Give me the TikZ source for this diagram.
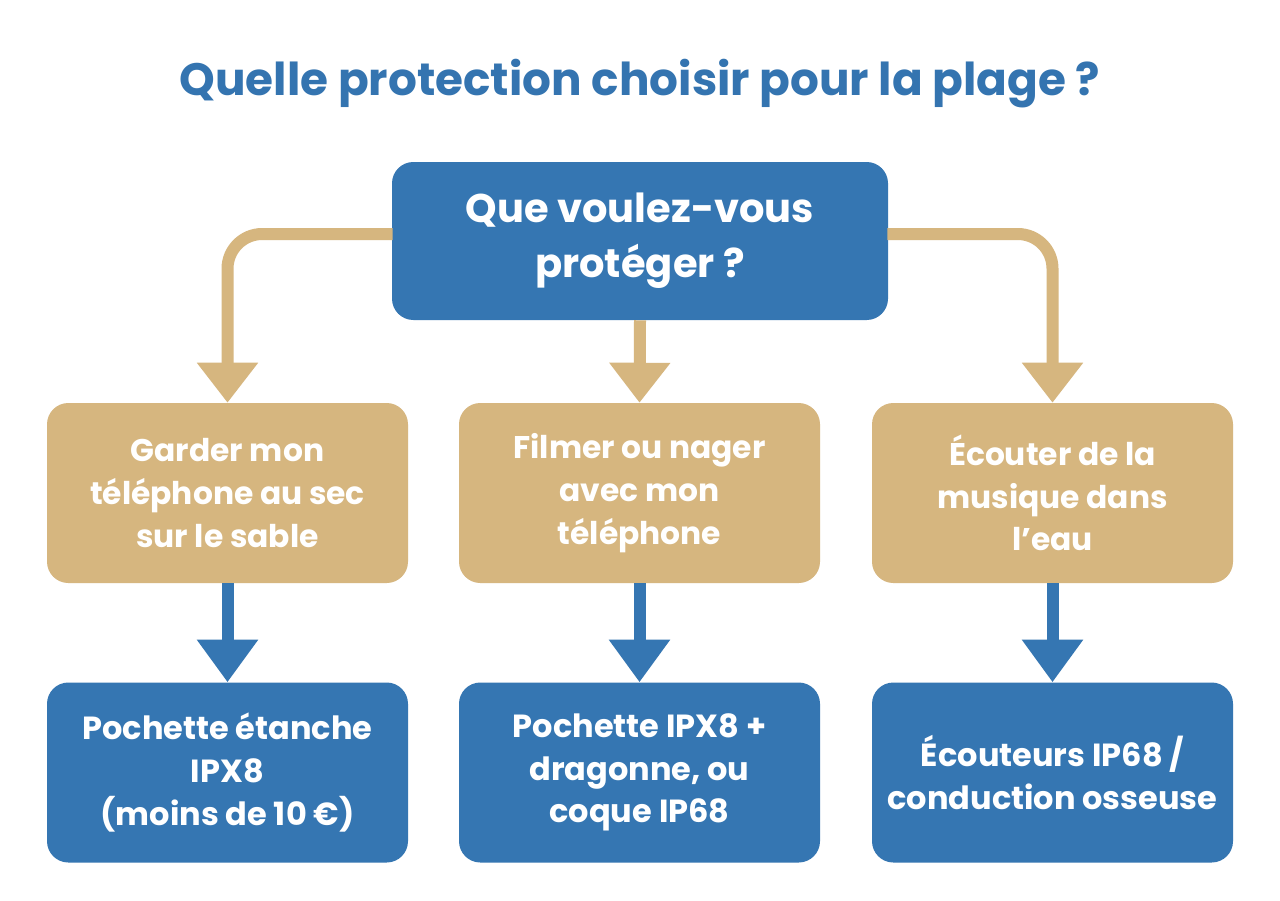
\documentclass[tikz,border=0pt]{standalone}
\usepackage{fontspec}
\setmainfont{Poppins}
\usetikzlibrary{arrows.meta,calc}
\definecolor{myblue}{RGB}{53,118,178}
\definecolor{mytan}{RGB}{214,182,127}
\definecolor{titleblue}{RGB}{52,116,176}
\tikzset{
  bluebox/.style={fill=myblue,rounded corners=16pt,text=white,align=center,font=\bfseries\fontsize{24}{32}\selectfont,minimum width=270.75pt,minimum height=135pt,inner sep=0pt},
  tanbox/.style={fill=mytan,rounded corners=16pt,text=white,align=center,font=\bfseries\fontsize{23.5}{32}\selectfont,minimum width=270.75pt,minimum height=135pt,inner sep=0pt},
  tanarrow/.style={draw=mytan,line width=9pt,rounded corners=26pt,-{Triangle[width=44pt,length=30pt]}},
  bluearrow/.style={draw=myblue,line width=9pt,-{Triangle[width=44pt,length=32pt]}},
}
\begin{document}
\begin{tikzpicture}[x=0.75pt,y=-0.75pt]
\useasboundingbox (0,0) rectangle (1280,900);
\fill[white] (0,0) rectangle (1280,900);
\node[text=titleblue,font=\bfseries\fontsize{34}{40}\selectfont] (title) at (640,84) {Quelle protection choisir pour la plage ?};
\node[bluebox,minimum width=372pt,minimum height=118.5pt,font=\bfseries\fontsize{30}{41}\selectfont] (top) at (640,241) {Que voulez-vous\\protéger ?};
\node[tanbox] (m1) at (227.5,493) {Garder mon\\téléphone au sec\\sur le sable};
\node[tanbox] (m2) at (639.5,493) {Filmer ou nager\\avec mon\\téléphone};
\node[tanbox] (m3) at (1052.5,493) {Écouter de la\\musique dans\\l’eau};
\node[bluebox] (b1) at (227.5,772.5) {Pochette étanche\\IPX8\\(moins de 10 €)};
\node[bluebox] (b2) at (639.5,772.5) {Pochette IPX8 +\\dragonne, ou\\coque IP68};
\node[bluebox] (b3) at (1052.5,772.5) {Écouteurs IP68 /\\conduction osseuse};
\draw[tanarrow] ($(top.west)+(1,-7)$) -| (m1.north);
\draw[tanarrow] ($(top.east)+(-1,-7)$) -| (m3.north);
\draw[tanarrow] (top.south) -- (m2.north);
\draw[bluearrow] (m1.south) -- (b1.north);
\draw[bluearrow] (m2.south) -- (b2.north);
\draw[bluearrow] (m3.south) -- (b3.north);
\end{tikzpicture}
\end{document}
